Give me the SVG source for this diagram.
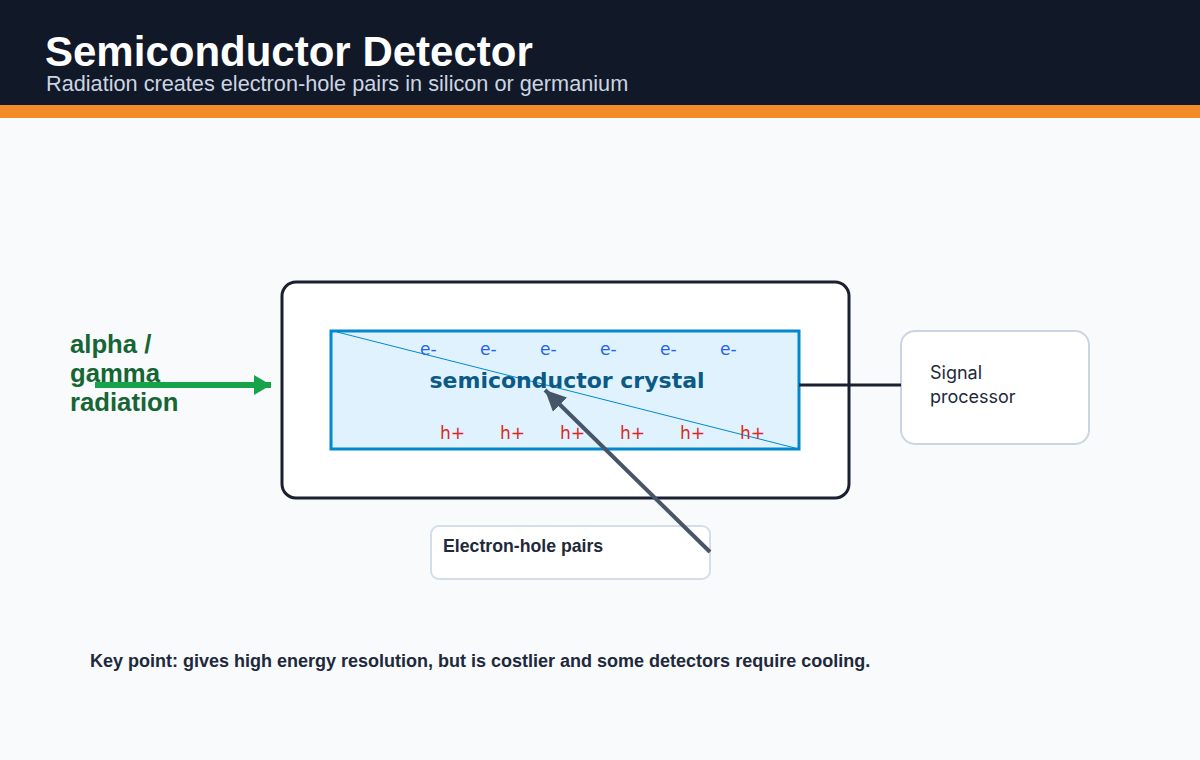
<svg xmlns="http://www.w3.org/2000/svg" width="1200" height="760" viewBox="0 0 1200 760">
<defs>
<style>
.title{font-family:"Liberation Sans",Arial,sans-serif;font-weight:bold;font-size:42px;fill:#ffffff}
.sub{font-family:"Liberation Sans",Arial,sans-serif;font-size:21.7px;fill:#cbd5e1}
.carrier{font-family:"DejaVu Sans",Verdana,sans-serif;font-size:17px}
.e{fill:#2563eb}
.h{fill:#dc2626}
.crys{font-family:"DejaVu Sans",Verdana,sans-serif;font-weight:bold;font-size:22px;fill:#0b5a86}
.rad{font-family:"Liberation Sans",Arial,sans-serif;font-weight:bold;font-size:25.7px;fill:#166534}
.proc{font-family:Inter,"Liberation Sans",sans-serif;font-size:18px;fill:#1e293b}
.call{font-family:"Liberation Sans",Arial,sans-serif;font-weight:bold;font-size:17.7px;fill:#1e293b}
.key{font-family:"Liberation Sans",Arial,sans-serif;font-weight:bold;font-size:18px;fill:#1e293b}
</style>
<marker id="ag" markerUnits="userSpaceOnUse" markerWidth="18" markerHeight="20" refX="17" refY="10" orient="auto">
<path d="M0,0 L17,10 L0,20 Z" fill="#16a34a"/>
</marker>
<marker id="ad" markerUnits="userSpaceOnUse" markerWidth="22" markerHeight="20" refX="21" refY="10" orient="auto">
<path d="M0,0 L21,10 L0,20 Z" fill="#475569"/>
</marker>
</defs>
<rect x="0" y="0" width="1200" height="760" fill="#f8fafc"/>
<g id="header">
<rect x="0" y="0" width="1200" height="105" fill="#111827"/>
<rect x="0" y="105" width="1200" height="13" fill="#f28c28"/>
<text class="title" x="45" y="66">Semiconductor Detector</text>
<text class="sub" x="46" y="91">Radiation creates electron-hole pairs in silicon or germanium</text>
</g>
<g id="detector">
<rect x="282" y="282" width="567" height="216" rx="14" fill="#ffffff" stroke="#1a2030" stroke-width="3"/>
</g>
<g id="crystal">
<rect x="331" y="331" width="468" height="118" fill="#e0f2fe" stroke="#0288d1" stroke-width="3"/>
<line x1="337" y1="332" x2="795" y2="448" stroke="#0288d1" stroke-width="1"/>
<g class="carrier e">
<text x="420" y="355">e-</text><text x="480" y="355">e-</text><text x="540" y="355">e-</text><text x="600" y="355">e-</text><text x="660" y="355">e-</text><text x="720" y="355">e-</text>
</g>
<g class="carrier h">
<text x="440" y="439">h+</text><text x="500" y="439">h+</text><text x="560" y="439">h+</text><text x="620" y="439">h+</text><text x="680" y="439">h+</text><text x="740" y="439">h+</text>
</g>
<text class="crys" x="567" y="388" text-anchor="middle">semiconductor crystal</text>
</g>
<g id="radiation">
<text class="rad" x="70" y="353">alpha /</text>
<text class="rad" x="70" y="382">gamma</text>
<text class="rad" x="70" y="411">radiation</text>
</g>
<g id="signal-processor">
<rect x="901" y="331" width="188" height="113" rx="14" fill="#ffffff" stroke="#cbd5e1" stroke-width="2"/>
<text class="proc" x="930" y="379">Signal</text>
<text class="proc" x="930" y="403">processor</text>
</g>
<g id="callout">
<rect x="431" y="526" width="279" height="53" rx="8" fill="#ffffff" stroke="#d5dde8" stroke-width="2"/>
<text class="call" x="443" y="552">Electron-hole pairs</text>
</g>
<g id="connectors">
<line x1="95" y1="385" x2="271" y2="385" stroke="#16a34a" stroke-width="6" marker-end="url(#ag)"/>
<line x1="799" y1="385" x2="901" y2="385" stroke="#1a2030" stroke-width="3"/>
<line x1="710" y1="552" x2="545" y2="390" stroke="#475569" stroke-width="4" marker-end="url(#ad)"/>
</g>
<g id="note">
<text class="key" x="90" y="667">Key point: gives high energy resolution, but is costlier and some detectors require cooling.</text>
</g>
</svg>
